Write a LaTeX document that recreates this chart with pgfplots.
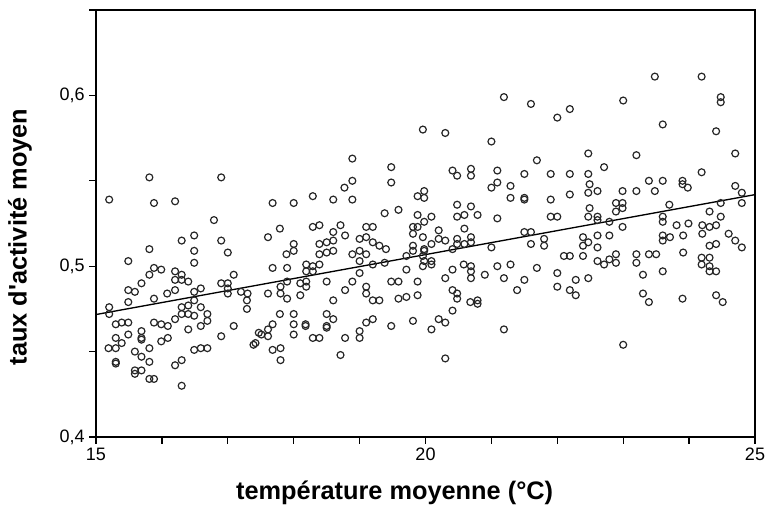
\documentclass[border=0pt]{standalone}
\usepackage{pgfplots}
\pgfplotsset{compat=1.18}
\usepackage{pgfplotstable}
\usepackage{fontspec}
\setmainfont{Liberation Sans}
\pgfplotstableread{
x y
15.81 0.552
16.90 0.552
19.96 0.580
18.89 0.563
19.48 0.558
18.89 0.550
19.48 0.549
18.77 0.546
21.19 0.599
21.60 0.595
22.00 0.587
22.19 0.592
20.30 0.578
21.00 0.573
22.47 0.566
21.69 0.562
20.41 0.556
20.48 0.553
20.69 0.557
20.69 0.553
21.09 0.556
21.09 0.549
21.50 0.554
21.90 0.554
22.19 0.554
22.47 0.554
21.29 0.547
21.00 0.546
23.48 0.611
24.19 0.611
23.00 0.597
24.48 0.599
24.48 0.596
23.60 0.583
24.41 0.579
23.20 0.565
24.70 0.566
22.71 0.558
24.19 0.555
23.39 0.550
23.60 0.550
23.90 0.550
23.90 0.548
23.98 0.546
24.70 0.547
22.49 0.548
15.20 0.539
15.88 0.537
16.20 0.538
16.79 0.527
16.49 0.518
16.30 0.515
16.90 0.515
15.81 0.510
16.49 0.509
17.00 0.508
15.49 0.503
16.49 0.502
15.88 0.499
15.99 0.498
15.81 0.495
16.20 0.497
16.30 0.495
17.09 0.495
16.20 0.492
16.30 0.492
16.40 0.491
15.69 0.490
16.90 0.490
17.00 0.490
17.00 0.487
15.49 0.486
15.59 0.485
16.20 0.486
16.49 0.485
16.59 0.487
16.08 0.484
17.20 0.485
17.30 0.484
17.00 0.484
15.88 0.481
15.49 0.479
16.49 0.480
17.68 0.537
18.00 0.537
18.29 0.541
18.60 0.539
18.89 0.539
19.38 0.531
19.59 0.533
19.88 0.541
19.88 0.530
17.79 0.522
17.61 0.517
18.29 0.523
18.39 0.524
18.71 0.524
18.60 0.520
18.78 0.518
19.10 0.523
19.20 0.523
19.10 0.517
19.00 0.516
19.20 0.514
19.30 0.512
19.40 0.510
19.81 0.523
19.88 0.523
19.81 0.519
19.96 0.517
18.00 0.513
17.89 0.507
18.00 0.509
18.39 0.513
18.50 0.514
18.60 0.515
18.39 0.507
18.50 0.508
18.60 0.509
18.89 0.507
19.00 0.509
19.10 0.507
19.81 0.512
19.81 0.509
19.71 0.506
19.96 0.506
18.39 0.501
18.29 0.500
18.19 0.501
19.00 0.503
19.20 0.501
19.38 0.502
17.68 0.499
17.90 0.499
18.19 0.497
18.29 0.497
19.00 0.496
19.71 0.498
19.96 0.500
17.90 0.491
17.80 0.488
18.10 0.490
18.19 0.491
18.19 0.488
18.50 0.491
18.78 0.486
18.89 0.491
19.10 0.488
19.48 0.491
19.59 0.491
19.88 0.491
17.61 0.484
17.80 0.484
18.10 0.483
19.10 0.484
18.60 0.480
17.90 0.481
19.20 0.480
19.30 0.480
19.59 0.481
19.71 0.482
19.88 0.483
19.98 0.544
19.98 0.540
21.29 0.540
21.50 0.540
21.50 0.539
21.90 0.539
22.19 0.542
22.47 0.543
20.48 0.536
20.69 0.535
20.48 0.529
20.59 0.530
20.79 0.530
20.09 0.529
21.09 0.528
21.90 0.529
22.00 0.529
22.47 0.529
19.98 0.526
20.59 0.522
20.20 0.521
20.20 0.516
20.30 0.515
20.48 0.516
20.48 0.513
20.69 0.517
20.69 0.514
20.59 0.513
20.09 0.513
20.41 0.510
19.98 0.510
19.98 0.509
21.00 0.511
21.50 0.520
21.60 0.520
21.80 0.516
21.80 0.512
21.60 0.513
22.39 0.517
22.39 0.512
22.47 0.514
22.10 0.506
22.19 0.506
22.39 0.506
19.98 0.503
20.09 0.503
20.09 0.501
20.58 0.501
20.69 0.500
21.09 0.500
21.29 0.501
21.69 0.499
20.41 0.498
20.69 0.497
20.30 0.493
20.69 0.493
20.90 0.495
21.19 0.493
21.50 0.492
22.00 0.496
22.47 0.493
20.41 0.486
20.48 0.484
20.48 0.481
21.39 0.486
22.00 0.488
22.28 0.492
22.19 0.486
22.28 0.483
20.68 0.479
20.79 0.480
20.79 0.478
20.41 0.474
20.20 0.469
20.30 0.467
20.09 0.463
21.19 0.463
20.30 0.446
22.61 0.544
22.99 0.544
23.20 0.544
23.48 0.544
24.80 0.543
24.80 0.537
22.89 0.537
22.99 0.537
22.99 0.534
22.89 0.532
23.70 0.536
24.48 0.537
22.49 0.534
22.61 0.529
22.61 0.527
22.79 0.526
24.31 0.532
24.48 0.529
23.60 0.529
23.60 0.526
23.81 0.524
23.99 0.525
24.20 0.524
24.20 0.519
24.31 0.523
24.41 0.524
22.99 0.523
22.61 0.518
22.79 0.518
23.60 0.518
23.60 0.515
23.71 0.517
23.91 0.518
24.60 0.519
24.70 0.515
24.80 0.511
24.31 0.512
24.41 0.513
22.61 0.511
23.20 0.507
23.20 0.502
23.39 0.507
23.50 0.507
23.91 0.508
22.89 0.507
22.89 0.502
22.79 0.504
22.71 0.501
22.61 0.503
24.19 0.505
24.31 0.505
24.19 0.501
24.31 0.500
24.31 0.497
24.41 0.497
23.30 0.495
23.60 0.497
23.30 0.484
23.90 0.481
24.41 0.483
24.51 0.479
23.39 0.479
23.00 0.454
15.20 0.476
15.20 0.472
16.30 0.476
16.40 0.477
16.59 0.476
16.30 0.472
16.40 0.472
16.49 0.471
16.69 0.472
16.69 0.468
16.59 0.465
16.20 0.469
15.30 0.466
15.39 0.467
15.49 0.467
15.88 0.467
15.99 0.466
16.09 0.465
15.69 0.462
15.69 0.458
15.69 0.457
15.30 0.458
15.39 0.455
15.49 0.460
15.19 0.452
15.30 0.452
15.59 0.450
15.81 0.452
15.69 0.447
15.81 0.444
15.30 0.444
15.30 0.443
15.99 0.456
16.09 0.458
16.40 0.463
15.59 0.439
15.59 0.437
15.69 0.439
15.81 0.434
15.88 0.434
16.20 0.442
16.30 0.445
16.30 0.430
16.49 0.451
16.59 0.452
16.69 0.452
16.90 0.459
17.09 0.465
17.29 0.480
17.29 0.475
17.39 0.454
17.47 0.461
17.79 0.472
18.00 0.472
17.68 0.466
17.61 0.463
17.61 0.459
17.51 0.460
17.42 0.455
18.00 0.466
18.00 0.460
18.18 0.466
18.18 0.465
18.50 0.472
18.50 0.465
18.50 0.464
18.60 0.469
18.29 0.458
18.39 0.458
18.78 0.458
19.00 0.462
19.00 0.458
19.10 0.467
19.20 0.469
19.48 0.465
19.81 0.468
17.68 0.451
17.80 0.452
17.80 0.445
18.71 0.448
}\pts
\begin{document}
\begin{tikzpicture}
\path[use as bounding box] (-72pt,-55.5pt) rectangle (503.25pt,327.75pt);
\begin{axis}[
  scale only axis, width=494.25pt, height=320.25pt,
  xmin=15, xmax=25, ymin=0.4, ymax=0.65,
  axis line style={line width=1pt, black},
  xtick={15,16,...,25}, xticklabels={15,,,,,20,,,,,25},
  ytick={0.4,0.45,0.5,0.55,0.6,0.65}, yticklabels={{0,4},,{0,5},,{0,6},},
  tick align=outside, xtick pos=bottom, ytick pos=left,
  major tick length=5pt, tick style={line width=1pt, black},
  ticklabel style={font=\fontsize{13.5}{16}\selectfont},
  /pgf/number format/assume math mode=true,
  xlabel={température moyenne (°C)},
  ylabel={taux d\textquotesingle activité moyen},
  label style={font=\fontsize{19}{22}\selectfont\bfseries},
  xlabel style={at={(axis description cs:0.4532,-0.1311)}, anchor=center},
  ylabel style={at={(axis description cs:-0.1153,0.4684)}, anchor=center},
]
\addplot[only marks, mark=o, mark size=2.6pt, mark options={line width=0.9pt, draw=black!85}] table[x=x,y=y] {\pts};
\addplot[black, line width=1pt] coordinates {(15,0.4717) (25,0.5419)};
\end{axis}
\end{tikzpicture}
\end{document}
